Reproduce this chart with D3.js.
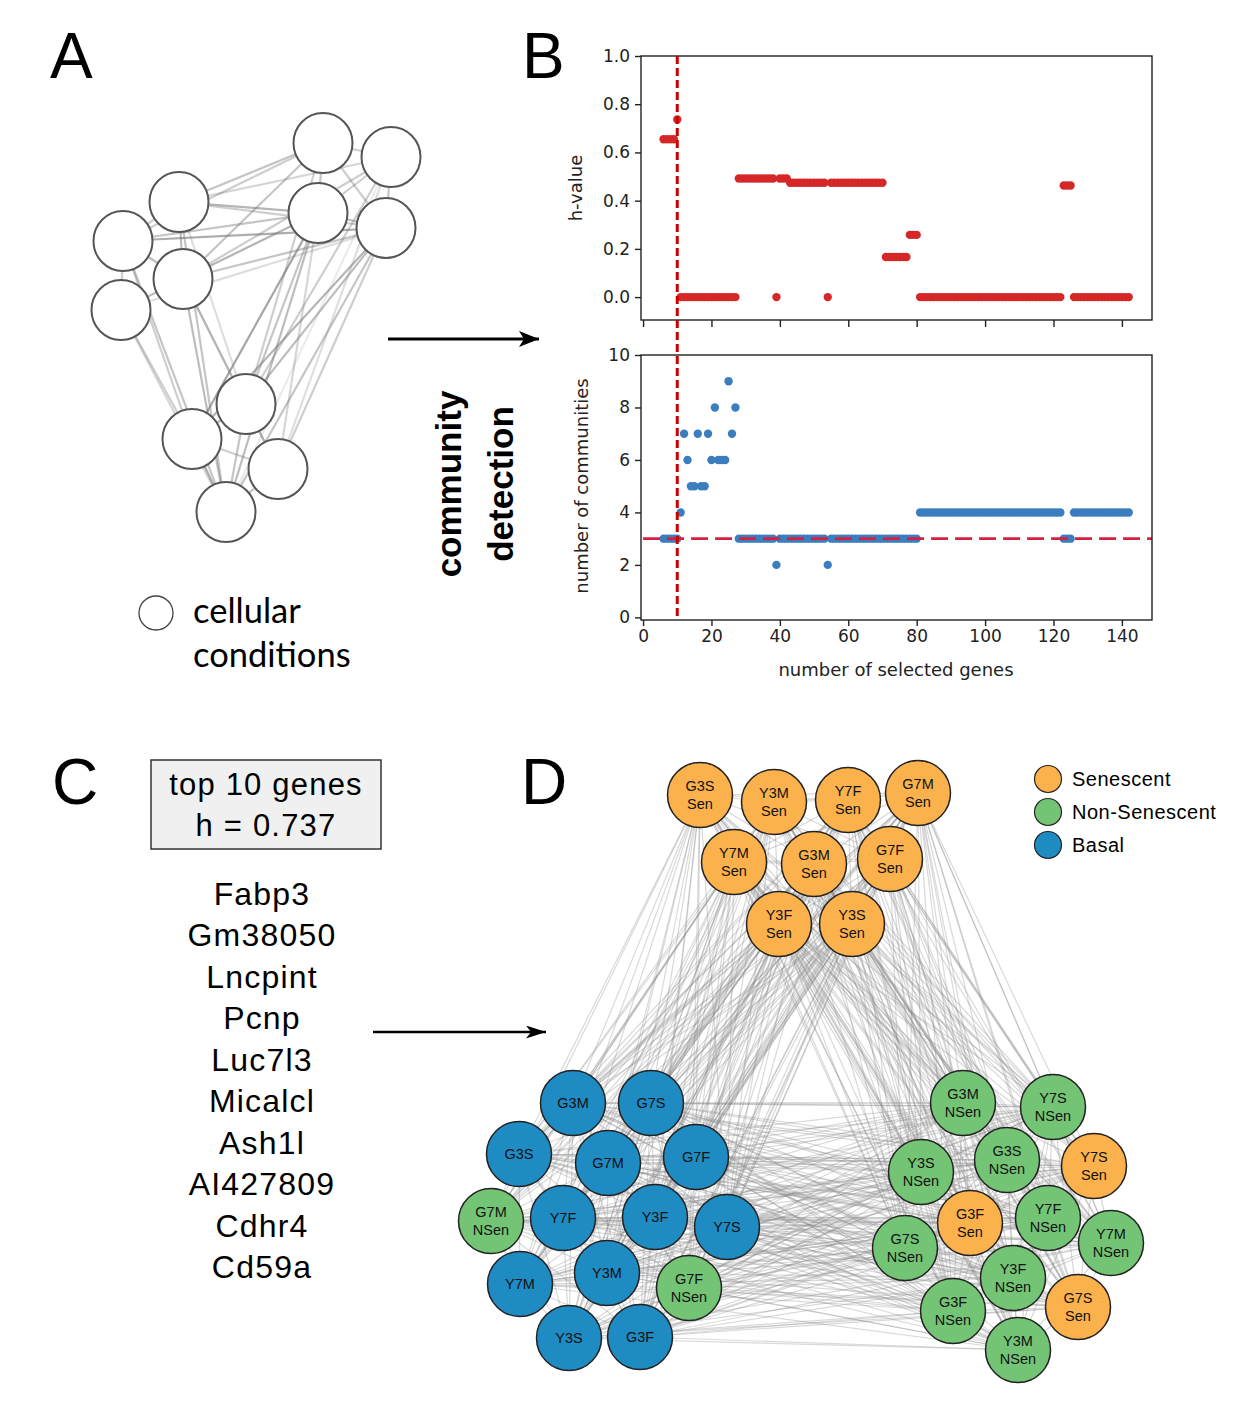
<!DOCTYPE html>
<html>
<head>
<meta charset="utf-8">
<script src="https://cdn.jsdelivr.net/npm/d3@7"></script>
<style>
  body { margin: 0; background: #fff; }
  svg { display: block; }
</style>
</head>
<body>
<svg id="fig" width="1246" height="1411"></svg>
<script>
// ---- data ----
// panel B, runs of [first n, last n, value] read off the two scatters
const hRuns = [
  [6, 9, 0.655], [10, 10, 0.737], [11, 27, 0], [28, 38, 0.492], [39, 39, 0],
  [40, 42, 0.492], [43, 53, 0.474], [54, 54, 0], [55, 70, 0.474], [71, 77, 0.166],
  [78, 80, 0.258], [81, 122, 0], [123, 125, 0.463], [126, 142, 0]
];
const commRuns = [
  [6, 10, 3], [11, 11, 4], [12, 12, 7], [13, 13, 6], [14, 15, 5], [16, 16, 7],
  [17, 18, 5], [19, 19, 7], [20, 20, 6], [21, 21, 8], [22, 24, 6], [25, 25, 9],
  [26, 26, 7], [27, 27, 8], [28, 38, 3], [39, 39, 2], [40, 53, 3], [54, 54, 2],
  [55, 80, 3], [81, 122, 4], [123, 125, 3], [126, 142, 4]
];
const hTicks = [0, 0.2, 0.4, 0.6, 0.8, 1.0];
const commTicks = [0, 2, 4, 6, 8, 10];
const geneTicks = [0, 20, 40, 60, 80, 100, 120, 140];
const chosenN = 10;
const expectedComms = 3;

// panel C
const topGenes = ["Fabp3", "Gm38050", "Lncpint", "Pcnp", "Luc7l3", "Micalcl", "Ash1l", "AI427809", "Cdhr4", "Cd59a"];
const bestH = 0.737;

// panel A toy network: layout units, and edges [from, to, weight]
const aNodes = [
  [233, 33], [301, 47], [89, 92], [228, 103], [296, 118], [33, 131],
  [93, 169], [31, 200], [156, 294], [102, 329], [188, 359], [136, 402]
];
const aEdges = [
  [2, 0, .35], [2, 3, .45], [2, 4, .3], [2, 1, .25], [5, 3, .35], [5, 4, .5], [5, 0, .3],
  [6, 0, .35], [6, 1, .3], [6, 3, .45], [6, 4, .35], [7, 4, .2], [2, 6, .4], [5, 6, .4],
  [5, 2, .3], [6, 7, .4], [5, 7, .3], [0, 1, .3], [0, 3, .35], [0, 4, .3], [1, 4, .35],
  [1, 3, .3], [3, 4, .4], [3, 9, .55], [3, 11, .4], [4, 9, .45], [4, 11, .35], [4, 10, .3],
  [1, 10, .2], [1, 11, .12], [0, 8, .3], [5, 9, .3], [5, 11, .35], [7, 11, .25], [7, 9, .3],
  [2, 11, .35], [6, 11, .4], [6, 10, .3], [6, 8, .25], [2, 8, .2], [3, 8, .35], [8, 9, .4],
  [8, 11, .35], [9, 11, .5], [10, 11, .35], [8, 10, .3], [9, 10, .3], [4, 8, .4], [1, 8, .3],
  [3, 10, .25]
];

// panel D network: [condition, state, layout x, layout y]
const dNodes = [
  ["G3S", "Sen", 240, 35], ["Y3M", "Sen", 314, 42], ["Y7F", "Sen", 388, 40], ["G7M", "Sen", 458, 33],
  ["Y7M", "Sen", 274, 102], ["G3M", "Sen", 354, 104], ["G7F", "Sen", 430, 99],
  ["Y3F", "Sen", 319, 164], ["Y3S", "Sen", 392, 164],
  ["G3M", "Basal", 113, 343], ["G7S", "Basal", 191, 343], ["G3S", "Basal", 59, 394],
  ["G7M", "Basal", 148, 403], ["G7F", "Basal", 236, 397], ["G7M", "NSen", 31, 461],
  ["Y7F", "Basal", 103, 458], ["Y3F", "Basal", 195, 457], ["Y7S", "Basal", 267, 467],
  ["Y7M", "Basal", 60, 524], ["Y3M", "Basal", 147, 513], ["G7F", "NSen", 229, 528],
  ["Y3S", "Basal", 109, 578], ["G3F", "Basal", 180, 577],
  ["G3M", "NSen", 503, 343], ["Y7S", "NSen", 593, 347], ["Y3S", "NSen", 461, 412],
  ["G3S", "NSen", 547, 400], ["Y7S", "Sen", 634, 406], ["G3F", "Sen", 510, 463],
  ["Y7F", "NSen", 588, 458], ["G7S", "NSen", 445, 488], ["Y7M", "NSen", 651, 483],
  ["Y3F", "NSen", 553, 518], ["G7S", "Sen", 618, 547], ["G3F", "NSen", 493, 551],
  ["Y3M", "NSen", 558, 590]
];
const states = ["Sen", "NSen", "Basal"];
const stateNames = ["Senescent", "Non-Senescent", "Basal"];
const stateColors = ["#fbb14c", "#74c476", "#1f8bc3"];

// ---- setup ----
const svg = d3.select("#fig");
const expand = runs => runs.flatMap(([a, b, v]) => d3.range(a, b + 1).map(n => ({ n, v })));
const hPoints = expand(hRuns);
const commPoints = expand(commRuns);

const defs = svg.append("defs");
function arrowHead(id, len, half) {
  defs.append("marker")
    .attr("id", id)
    .attr("viewBox", `0 0 ${len} ${half * 2}`)
    .attr("refX", len).attr("refY", half)
    .attr("markerWidth", len).attr("markerHeight", half * 2)
    .attr("markerUnits", "userSpaceOnUse")
    .attr("orient", "auto")
    .append("path")
    .attr("d", `M0,0 L${len},${half} L0,${half * 2} L${len * 0.25},${half} Z`)
    .attr("fill", "#000");
}
arrowHead("headBig", 20, 8);
arrowHead("headMid", 20, 6.5);

const letter = (t, x, y) => svg.append("text")
  .attr("x", x).attr("y", y)
  .attr("font-family", "Liberation Sans, Arial, sans-serif")
  .attr("font-size", 64).text(t);
letter("A", 50, 78);
letter("B", 522, 78);
letter("C", 52, 804);
letter("D", 521, 804);

// ---- panel A ----
const ax = d3.scaleLinear().domain([0, 100]).range([90, 190]);
const ay = d3.scaleLinear().domain([0, 100]).range([110, 210]);
const gA = svg.append("g");

gA.selectAll("line").data(aEdges).join("line")
  .attr("x1", d => ax(aNodes[d[0]][0])).attr("y1", d => ay(aNodes[d[0]][1]))
  .attr("x2", d => ax(aNodes[d[1]][0])).attr("y2", d => ay(aNodes[d[1]][1]))
  .attr("stroke", "#707070").attr("stroke-width", 2.2)
  .attr("stroke-opacity", d => d[2] * 1.15);

gA.selectAll("ellipse").data(aNodes).join("ellipse")
  .attr("cx", d => ax(d[0])).attr("cy", d => ay(d[1]))
  .attr("rx", 29.5).attr("ry", 30)
  .attr("fill", "#fff").attr("stroke", "#555").attr("stroke-width", 2);

gA.append("circle").attr("cx", 156).attr("cy", 613).attr("r", 17)
  .attr("fill", "#fff").attr("stroke", "#444").attr("stroke-width", 1.3);
gA.append("text").attr("x", 193).attr("y", 623)
  .attr("font-family", "Lato, Open Sans, sans-serif").attr("font-size", 34.5)
  .text("cellular");
gA.append("text").attr("x", 193).attr("y", 667)
  .attr("font-family", "Lato, Open Sans, sans-serif").attr("font-size", 34.5)
  .text("conditions");

// arrow A -> B
svg.append("line").attr("x1", 388).attr("y1", 339).attr("x2", 539).attr("y2", 339)
  .attr("stroke", "#000").attr("stroke-width", 3).attr("marker-end", "url(#headBig)");

const cd = svg.append("text")
  .attr("transform", "translate(0,484) rotate(-90)")
  .attr("font-family", "Liberation Sans, Arial, sans-serif")
  .attr("font-weight", "bold").attr("font-size", 35)
  .attr("text-anchor", "middle");
cd.append("tspan").attr("x", 0).attr("y", 461).text("community");
cd.append("tspan").attr("x", 0).attr("y", 513).text("detection");

// ---- panel B ----
const x = d3.scaleLinear().domain([-0.6, 148.8]).range([641, 1152]);
const yH = d3.scaleLinear().domain([-0.095, 1.0]).range([320, 56]);
const yC = d3.scaleLinear().domain([-0.1, 10]).range([620, 355]);
const tickFont = "DejaVu Sans, sans-serif";

function frame(y) {
  svg.append("rect")
    .attr("x", x.range()[0]).attr("y", y.range()[1])
    .attr("width", x.range()[1] - x.range()[0])
    .attr("height", y.range()[0] - y.range()[1])
    .attr("fill", "none").attr("stroke", "#222").attr("stroke-width", 1.4);
}
function styleAxis(g) {
  g.select(".domain").remove();
  g.selectAll(".tick line").attr("stroke", "#222").attr("stroke-width", 1.4);
  g.selectAll(".tick text").attr("font-family", tickFont).attr("font-size", 17).attr("fill", "#222");
}

// top: h-value
svg.append("g").attr("transform", "translate(641,0)")
  .call(d3.axisLeft(yH).tickValues(hTicks).tickFormat(d3.format(".1f")).tickSize(6).tickPadding(5))
  .call(styleAxis);
svg.append("g").attr("transform", "translate(0,320)")
  .call(d3.axisBottom(x).tickValues(geneTicks).tickFormat("").tickSize(7))
  .call(styleAxis);
svg.append("g").selectAll("circle").data(hPoints).join("circle")
  .attr("cx", d => x(d.n)).attr("cy", d => yH(d.v)).attr("r", 4.2)
  .attr("fill", "#d62728");
frame(yH);
svg.append("text")
  .attr("transform", `translate(582,${(56 + 320) / 2}) rotate(-90)`)
  .attr("text-anchor", "middle").attr("font-family", tickFont).attr("font-size", 18)
  .attr("fill", "#222").text("h-value");

// bottom: number of communities
svg.append("g").attr("transform", "translate(641,0)")
  .call(d3.axisLeft(yC).tickValues(commTicks).tickSize(6).tickPadding(5))
  .call(styleAxis);
svg.append("g").attr("transform", "translate(0,620)")
  .call(d3.axisBottom(x).tickValues(geneTicks).tickSize(6).tickPadding(4))
  .call(styleAxis);
svg.append("g").selectAll("circle").data(commPoints).join("circle")
  .attr("cx", d => x(d.n)).attr("cy", d => yC(d.v)).attr("r", 4.2)
  .attr("fill", "#3a7ebf");
svg.append("line")
  .attr("x1", x(0)).attr("x2", 1152)
  .attr("y1", yC(expectedComms)).attr("y2", yC(expectedComms))
  .attr("stroke", "#d62040").attr("stroke-width", 2.6).attr("stroke-dasharray", "17,7");
frame(yC);
svg.append("text")
  .attr("transform", `translate(588,486) rotate(-90)`)
  .attr("text-anchor", "middle").attr("font-family", tickFont).attr("font-size", 18)
  .attr("fill", "#222").text("number of communities");
svg.append("text").attr("x", 896).attr("y", 676)
  .attr("text-anchor", "middle").attr("font-family", tickFont).attr("font-size", 18)
  .attr("fill", "#222").text("number of selected genes");

// chosen gene count, across both plots
svg.append("line")
  .attr("x1", x(chosenN)).attr("x2", x(chosenN))
  .attr("y1", yH(1.0)).attr("y2", yC.range()[0])
  .attr("stroke", "#cc0000").attr("stroke-width", 3).attr("stroke-dasharray", "8,4");

// ---- panel C ----
const cFont = "Liberation Sans, Arial, sans-serif";
svg.append("rect").attr("x", 151).attr("y", 760).attr("width", 230).attr("height", 89)
  .attr("fill", "#f0f0f0").attr("stroke", "#333").attr("stroke-width", 1.5);
svg.append("text").attr("x", 266).attr("y", 795).attr("text-anchor", "middle")
  .attr("font-family", cFont).attr("font-size", 31).attr("letter-spacing", 1.2)
  .text("top 10 genes");
svg.append("text").attr("x", 266).attr("y", 836).attr("text-anchor", "middle")
  .attr("font-family", cFont).attr("font-size", 31).attr("letter-spacing", 1.2)
  .text(`h = ${bestH}`);

const gy = d3.scalePoint().domain(topGenes).range([894, 1267]);
svg.append("g").selectAll("text").data(topGenes).join("text")
  .attr("x", 262).attr("y", d => gy(d) + 11)
  .attr("text-anchor", "middle").attr("font-family", cFont).attr("font-size", 32)
  .attr("letter-spacing", 1.2)
  .text(d => d);

svg.append("line").attr("x1", 373).attr("y1", 1032).attr("x2", 546).attr("y2", 1032)
  .attr("stroke", "#000").attr("stroke-width", 2.5).attr("marker-end", "url(#headMid)");

// ---- panel D ----
const dx = d3.scaleLinear().domain([0, 100]).range([460, 560]);
const dy = d3.scaleLinear().domain([0, 100]).range([760, 860]);
const color = d3.scaleOrdinal().domain(states).range(stateColors);
const gD = svg.append("g");

const dEdges = [];
dNodes.forEach((a, i) => dNodes.forEach((b, j) => { if (j > i) dEdges.push([a, b]); }));
gD.append("g").selectAll("line").data(dEdges).join("line")
  .attr("x1", d => dx(d[0][2])).attr("y1", d => dy(d[0][3]))
  .attr("x2", d => dx(d[1][2])).attr("y2", d => dy(d[1][3]))
  .attr("stroke", "#8a8a8a").attr("stroke-width", 1.2).attr("stroke-opacity", 0.32);

const node = gD.append("g").selectAll("g").data(dNodes).join("g")
  .attr("transform", d => `translate(${dx(d[2])},${dy(d[3])})`);
node.append("circle").attr("r", 32.5)
  .attr("fill", d => color(d[1])).attr("stroke", "#222").attr("stroke-width", 1.5);
node.append("text")
  .attr("text-anchor", "middle").attr("font-family", cFont).attr("font-size", 14.5)
  .attr("fill", "#111")
  .each(function (d) {
    const t = d3.select(this);
    if (d[1] === "Basal") {
      t.append("tspan").attr("x", 0).attr("y", 5).text(d[0]);
    } else {
      t.append("tspan").attr("x", 0).attr("y", -4).text(d[0]);
      t.append("tspan").attr("x", 0).attr("y", 14).text(d[1]);
    }
  });

// legend
const leg = svg.append("g").selectAll("g").data(states).join("g")
  .attr("transform", (d, i) => `translate(1048,${779 + i * 33})`);
leg.append("circle").attr("r", 13.5)
  .attr("fill", d => color(d)).attr("stroke", "#222").attr("stroke-width", 1.2);
leg.append("text").attr("x", 24).attr("y", 7)
  .attr("font-family", cFont).attr("font-size", 20).attr("letter-spacing", 0.5)
  .text((d, i) => stateNames[i]);
</script>
</body>
</html>
